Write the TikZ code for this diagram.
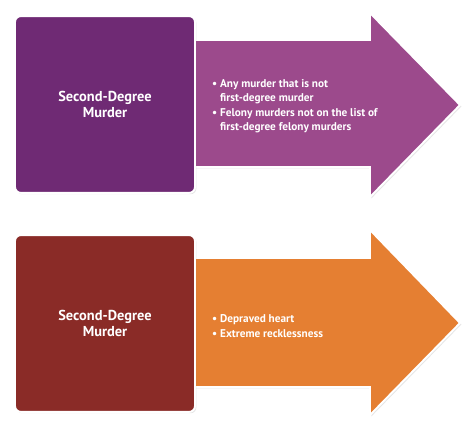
\documentclass[tikz,border=0pt]{standalone}
\usepackage{fontspec}
\setmainfont{PT Sans}
\usetikzlibrary{shadows}
\definecolor{plumdark}{HTML}{6F2A74}
\definecolor{plumlight}{HTML}{9C4A8C}
\definecolor{maroon}{HTML}{8A2B27}
\definecolor{tangerine}{HTML}{E57F32}

\tikzset{
  softshadow/.style={drop shadow={opacity=0.2, shadow xshift=1.2pt, shadow yshift=-1.2pt}},
  squarebox/.style={fill=#1, draw=white, line width=1.6pt, rounded corners=5pt,
    minimum width=5.4cm, minimum height=5.3cm, softshadow,
    text=white, align=center, font=\fontsize{12.3}{14}\selectfont\bfseries},
  arrowbody/.style={fill=#1, draw=white, line width=1.6pt, line join=miter, softshadow},
  bullets/.style={text=white, align=left, anchor=north west, inner sep=0pt,
    font=\fontsize{9.6}{12.4}\selectfont\bfseries},
}

\begin{document}
\begin{tikzpicture}[x=0.03cm, y=-0.03cm]
\useasboundingbox (0,0) rectangle (474,430);

% Top panel
\draw[arrowbody=plumlight] (185,40) -- (370,40) -- (370,13) -- (460,105)
  -- (370,197) -- (370,167) -- (185,167) -- cycle;
\node[squarebox=plumdark] (sqtop) at (105,104.5) {Second-Degree\\Murder};
\node[bullets] (listtop) at (212,79)
  {\textbullet\ Any murder that is not\\
   \phantom{\textbullet\ }first-degree murder\\
   \textbullet\ Felony murders not on the list of\\
   \phantom{\textbullet\ }first-degree felony murders};

% Bottom panel
\draw[arrowbody=tangerine] (185,258) -- (370,258) -- (370,230) -- (460,323)
  -- (370,415) -- (370,387) -- (185,387) -- cycle;
\node[squarebox=maroon] (sqbottom) at (105,323.5) {Second-Degree\\Murder};
\node[bullets] (listbottom) at (212,314.5)
  {\textbullet\ Depraved heart\\
   \textbullet\ Extreme recklessness};

\end{tikzpicture}
\end{document}
